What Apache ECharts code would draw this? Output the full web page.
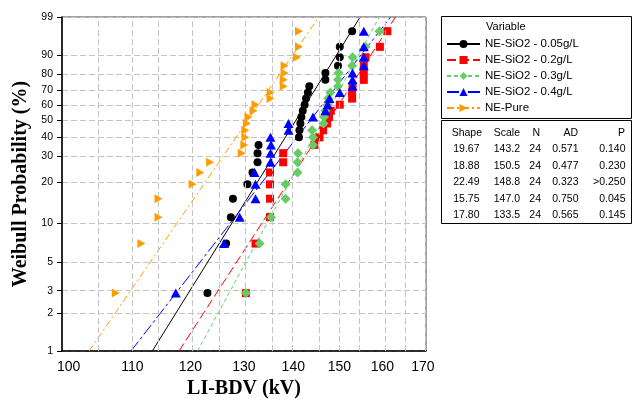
<!DOCTYPE html>
<html><head><meta charset="utf-8">
<script src="https://cdn.jsdelivr.net/npm/echarts@6/dist/echarts.min.js"></script>
<style>html,body{margin:0;padding:0;background:#fff}#c{width:634px;height:404px}</style>
</head><body><div id="c"></div>
<script>
// ---- data ----
const seriesNames = ['NE-SiO2 - 0.05g/L', 'NE-SiO2 - 0.2g/L', 'NE-SiO2 - 0.3g/L', 'NE-SiO2 - 0.4g/L', 'NE-Pure'];
const bdv005 = [123.1, 126.6, 127.5, 127.9, 130.7, 131.7, 132.7, 132.7, 132.9, 141.2, 141.3, 141.5, 141.7, 142.0, 142.4, 142.7, 143.1, 143.4, 146.9, 146.9, 149.7, 150.1, 150.1, 152.9];
const bdv02  = [130.4, 132.3, 135.2, 135.2, 135.2, 135.2, 137.9, 137.9, 144.5, 145.6, 146.4, 147.3, 147.7, 148.1, 150.1, 152.9, 152.9, 153.0, 155.6, 155.6, 155.6, 156.0, 159.4, 161.2];
const bdv03  = [130.4, 133.1, 135.4, 138.4, 138.4, 140.9, 140.9, 141.0, 144.2, 144.2, 144.0, 146.5, 146.6, 146.9, 147.4, 147.5, 148.0, 149.7, 149.7, 149.8, 152.9, 153.0, 156.0, 159.3];
const bdv04  = [117.4, 126.2, 129.2, 132.3, 132.3, 132.1, 135.3, 135.3, 135.4, 135.3, 139.0, 139.0, 144.2, 146.9, 147.4, 147.8, 150.1, 153.0, 153.0, 153.0, 155.6, 155.6, 155.6, 155.6];
const bdvPure = [107.3, 111.5, 114.4, 114.4, 120.4, 121.8, 123.6, 129.6, 130.1, 130.3, 130.3, 130.6, 130.9, 131.9, 132.3, 135.3, 135.3, 138.0, 138.0, 138.2, 138.2, 140.8, 141.2, 141.2];
// plotting positions (%) of ranks 1..24
const rankPct = [2.869, 6.967, 11.066, 15.164, 19.262, 23.361, 27.459, 31.557, 35.656, 39.754, 43.852, 47.951, 52.049, 56.148, 60.246, 64.344, 68.443, 72.541, 76.639, 80.738, 84.836, 88.934, 93.033, 97.131];
const shapeText = ['19.67', '18.88', '22.49', '15.75', '17.80'];
const scaleText = ['143.2', '150.5', '148.8', '147.0', '133.5'];
const nText = ['24', '24', '24', '24', '24'];
const adText = ['0.571', '0.477', '0.323', '0.750', '0.565'];
const pText = ['0.140', '0.230', '>0.250', '0.045', '0.145'];
const fitPct = [1, 99];
const xTicks = [100, 105, 110, 115, 120, 125, 130, 135, 140, 145, 150, 155, 160, 165, 170];
const xLabels = [100, 110, 120, 130, 140, 150, 160, 170];
const yTicks = [1, 2, 3, 5, 10, 20, 30, 40, 50, 60, 70, 80, 90, 99];
const tableHeader = ['Shape', 'Scale', 'N', 'AD', 'P'];

// ---- build ----
const allData = [bdv005, bdv02, bdv03, bdv04, bdvPure];
const colors = ['#000000', '#ff0000', '#66cc66', '#0000ff', '#ff9c00'];
const symbols = ['circle', 'rect', 'diamond', 'triangle', 'triangle'];
const symSizes = [8, 8, [10, 10], [10, 9], [9, 8]];
const symRot = [0, 0, 0, 0, -90];
const dashes = ['solid', [9, 4], [4, 3], [12, 3, 3, 3], [7, 3, 2, 3]];

const wb = p => Math.log(-Math.log(1 - p / 100));
const lx = v => Math.log(v);
const gridStyle = { color: '#c4c4c4', width: 1, type: [6, 3] };

const series = [];
seriesNames.forEach((nm, k) => {
  const shp = parseFloat(shapeText[k]), scl = parseFloat(scaleText[k]);
  const fit = fitPct.map(p => [lx(scl) + wb(p) / shp, wb(p)]);
  series.push({
    name: nm, type: 'line', data: fit, showSymbol: false, symbol: symbols[k], symbolRotate: symRot[k],
    lineStyle: { color: colors[k], width: 1, type: dashes[k] }, itemStyle: { color: colors[k] },
    silent: true, z: 2, animation: false
  });
});
seriesNames.forEach((nm, k) => {
  series.push({
    name: nm + ' pts', type: 'scatter',
    data: allData[k].map((v, i) => [lx(v), wb(rankPct[i])]),
    symbol: symbols[k], symbolSize: symSizes[k], symbolRotate: symRot[k],
    itemStyle: { color: colors[k], opacity: 1 }, silent: true, z: 3 + k, animation: false
  });
});
// vertical grid lines at every 5 kV
series.push({
  name: 'vgrid', type: 'line', data: [], silent: true, z: 1, animation: false,
  markLine: { silent: true, symbol: ['none', 'none'], label: { show: false }, lineStyle: gridStyle, animation: false,
    data: xTicks.slice(1).map(v => ({ xAxis: lx(v) })) }
});

const graphics = [
  { type: 'rect', shape: { x: 441.5, y: 16.5, width: 190, height: 102 }, style: { fill: 'none', stroke: '#000', lineWidth: 1 } },
  { type: 'rect', shape: { x: 441.5, y: 120.5, width: 190, height: 103 }, style: { fill: 'none', stroke: '#000', lineWidth: 1 } },
  { type: 'text', left: 486, top: 21, style: { text: 'Variable', font: '11px "Liberation Sans"', fill: '#000' } }
];
const colRight = [482, 520, 540, 578, 625];
const rowY = [133, 149.5, 166, 182.5, 199, 215.5];
tableHeader.forEach((h, c) => graphics.push({ type: 'text', x: colRight[c], y: rowY[0], style: { text: h, font: '10.5px "Liberation Sans"', fill: '#000', align: 'right', verticalAlign: 'middle' } }));
const cols = [shapeText, scaleText, nText, adText, pText];
const valRight = [479.5, 520, 541, 578.5, 625.5];
for (let r = 0; r < 5; r++) {
  cols.forEach((arr, c) => graphics.push({ type: 'text', x: valRight[c], y: rowY[r + 1], style: { text: arr[r], font: '10.5px "Liberation Sans"', fill: '#000', align: 'right', verticalAlign: 'middle' } }));
}

const chart = echarts.init(document.getElementById('c'), null, { renderer: 'canvas' });
chart.setOption({
  animation: false,
  backgroundColor: '#fff',
  grid: { left: 62, right: 208, top: 17, bottom: 49, show: true, borderColor: '#444', borderWidth: 1, containLabel: false },
  xAxis: {
    type: 'value', min: Math.log(99.0), max: Math.log(170.8),
    name: 'LI-BDV (kV)', nameLocation: 'middle', nameGap: 27,
    nameTextStyle: { fontFamily: 'Liberation Serif', fontWeight: 'bold', fontSize: 20, color: '#000' },
    axisLine: { show: true, onZero: false, lineStyle: { color: '#000', width: 1.5 } },
    axisTick: { show: false, customValues: xLabels.map(lx) },
    axisLabel: { customValues: xLabels.map(lx), margin: 9, fontFamily: 'Liberation Sans', fontSize: 14, color: '#000', formatter: v => String(Math.round(Math.exp(v))) },
    splitLine: { show: false }
  },
  yAxis: {
    type: 'value', min: wb(1), max: wb(99),
    name: 'Weibull Probability (%)', nameLocation: 'middle', nameGap: 31,
    nameTextStyle: { fontFamily: 'Liberation Serif', fontWeight: 'bold', fontSize: 20, color: '#000' },
    axisLine: { show: true, onZero: false, lineStyle: { color: '#000', width: 1.5 } },
    axisTick: { show: true, length: 5, customValues: yTicks.map(wb), lineStyle: { color: '#000' } },
    axisLabel: { customValues: yTicks.map(wb), margin: 9, fontFamily: 'Liberation Sans', fontSize: 10.5, color: '#000', formatter: v => String(Math.round(100 * (1 - Math.exp(-Math.exp(v))))) },
    splitLine: { show: true, lineStyle: gridStyle }
  },
  legend: {
    data: seriesNames, orient: 'vertical', left: 446, top: 37, padding: 0, itemGap: 2,
    itemWidth: 33, itemHeight: 10, selectedMode: false,
    textStyle: { fontFamily: 'Liberation Sans', fontSize: 11.5, color: '#000', lineHeight: 14 }
  },
  graphic: graphics,
  series: series
});
</script></body></html>
